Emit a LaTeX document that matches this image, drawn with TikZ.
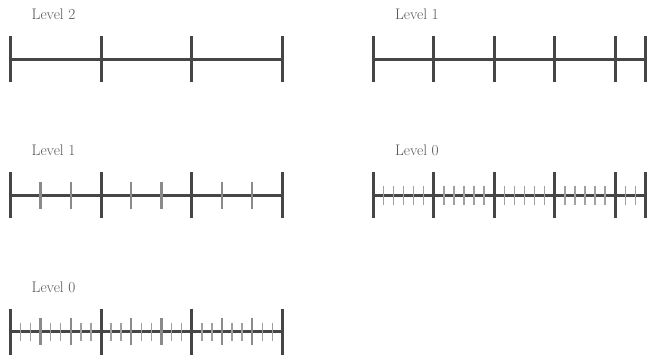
\documentclass[tikz,border=0pt]{standalone}
\definecolor{majorc}{HTML}{464646}
\definecolor{midc}{HTML}{8A8A8A}
\definecolor{smallc}{HTML}{A0A0A0}
\definecolor{labelc}{HTML}{555555}
\begin{document}
\begin{tikzpicture}[x=1pt,y=-1pt,
  axisline/.style={line width=3pt,draw=majorc},
  majortick/.style={line width=3pt,draw=majorc},
  midtick/.style={line width=2.4pt,draw=midc},
  smalltick/.style={line width=1.5pt,draw=smallc},
  lab/.style={anchor=base west,inner sep=0pt,text=labelc,font=\fontsize{15.3}{18}\selectfont}]
\useasboundingbox (0,0) rectangle (647,354);

% Panel 1: Level 2
\node[lab] (l1) at (31.5,19.5) {Level 2};
\begin{scope}[shift={(10.3,59)},x=10.08pt]
  \draw[axisline] (0,0) -- (27,0);
  \foreach \i in {0,9,18,27} \draw[majortick] (\i,-23) -- (\i,23);
\end{scope}

% Panel 2: Level 1 (right)
\node[lab] (l2) at (394.8,19.5) {Level 1};
\begin{scope}[shift={(373.3,59)},x=10.08pt]
  \draw[axisline] (0,0) -- (27,0);
  \foreach \i in {0,6,12,18,24,27} \draw[majortick] (\i,-23) -- (\i,23);
\end{scope}

% Panel 3: Level 1 (left)
\node[lab] (l3) at (31.5,155.5) {Level 1};
\begin{scope}[shift={(10.3,195)},x=10.08pt]
  \draw[axisline] (0,0) -- (27,0);
  \foreach \i in {3,6,12,15,21,24} \draw[midtick] (\i,-13.5) -- (\i,13.5);
  \foreach \i in {0,9,18,27} \draw[majortick] (\i,-23) -- (\i,23);
\end{scope}

% Panel 4: Level 0 (right)
\node[lab] (l4) at (394.8,155.5) {Level 0};
\begin{scope}[shift={(373.3,195)},x=10.08pt]
  \draw[axisline] (0,0) -- (27,0);
  \foreach \i in {1,...,5,7,8,...,11,13,14,...,17,19,20,...,23,25,26} \draw[smalltick] (\i,-9.5) -- (\i,9.5);
  \foreach \i in {0,6,12,18,24,27} \draw[majortick] (\i,-23) -- (\i,23);
\end{scope}

% Panel 5: Level 0 (left)
\node[lab] (l5) at (31.5,292.3) {Level 0};
\begin{scope}[shift={(10.3,331.7)},x=10.08pt]
  \draw[axisline] (0,0) -- (27,0);
  \foreach \i in {1,2,4,5,7,8,10,11,13,14,16,17,19,20,22,23,25,26} \draw[smalltick] (\i,-9) -- (\i,9);
  \foreach \i in {3,6,12,15,21,24} \draw[midtick] (\i,-13.5) -- (\i,13.5);
  \foreach \i in {0,9,18,27} \draw[majortick] (\i,-23) -- (\i,23);
\end{scope}
\end{tikzpicture}
\end{document}
